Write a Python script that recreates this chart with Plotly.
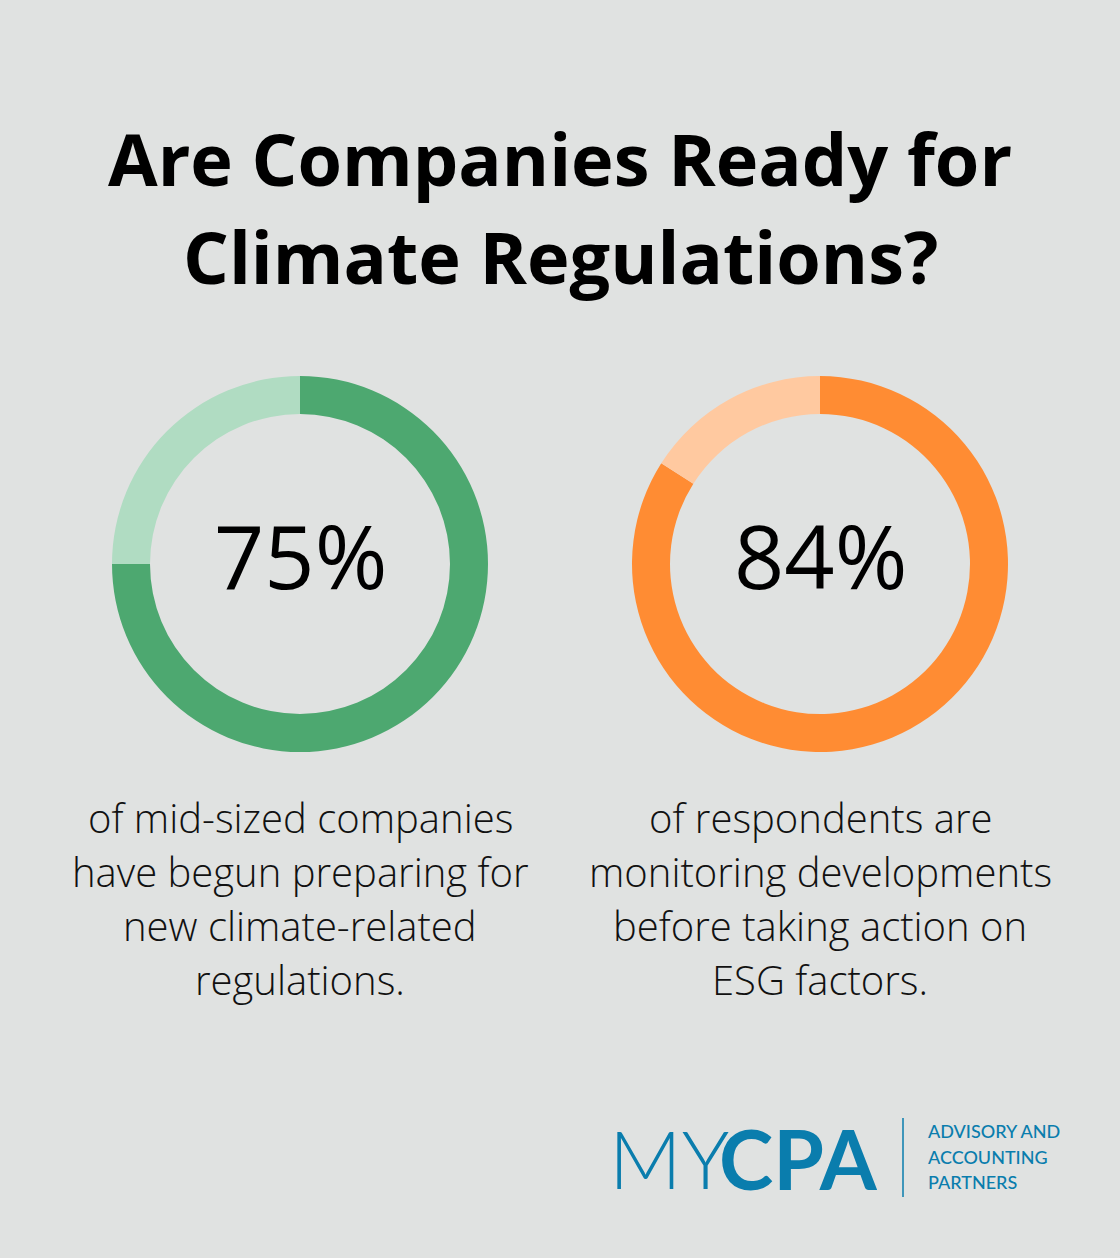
import plotly.graph_objects as go

W, H = 1120, 1258

title_lines = ["Are Companies Ready for", "Climate Regulations?"]
percentages = [75, 84]
pct_labels = ["75%", "84%"]
descriptions = [
    ["of mid-sized companies", "have begun preparing for", "new climate-related", "regulations."],
    ["of respondents are", "monitoring developments", "before taking action on", "ESG factors."],
]
main_colors = ["#4DA870", "#FF8C33"]
light_colors = ["#B0DCC2", "#FFC9A0"]
logo_tagline = ["ADVISORY AND", "ACCOUNTING", "PARTNERS"]

BG = "#E0E2E1"
BLUE = "#0A7DAD"

def px(x):
    return x / W

def py(y):
    return 1 - y / H

fig = go.Figure()

centers_x = [300, 820]
cy = 564
R = 188
for i, p in enumerate(percentages):
    cx = centers_x[i]
    fig.add_trace(go.Pie(
        values=[p, 100 - p],
        labels=["yes", "no"],
        marker=dict(colors=[main_colors[i], light_colors[i]], line=dict(width=0)),
        hole=150 / 188,
        sort=False,
        direction="clockwise",
        rotation=0,
        textinfo="none",
        hoverinfo="skip",
        showlegend=False,
        domain=dict(x=[px(cx - R), px(cx + R)], y=[py(cy + R), py(cy - R)]),
    ))
    fig.add_annotation(x=px(cx), y=py(555), xref="paper", yref="paper",
                       text=pct_labels[i], showarrow=False,
                       font=dict(family="Open Sans", size=88, color="#000000"),
                       xanchor="center", yanchor="middle")
    for j, line in enumerate(descriptions[i]):
        fig.add_annotation(x=px(cx), y=py(817 + 54 * j), xref="paper", yref="paper",
                           text=line, showarrow=False,
                           font=dict(family="Open Sans", size=40, color="#111111", weight=300),
                           xanchor="center", yanchor="middle")

for j, line in enumerate(title_lines):
    fig.add_annotation(x=0.5, y=py(158 + 98 * j), xref="paper", yref="paper",
                       text=line, showarrow=False,
                       font=dict(family="Open Sans", size=72, color="#000000", weight=700),
                       xanchor="center", yanchor="middle")

# logo
fig.add_annotation(x=px(607), y=py(1158), xref="paper", yref="paper",
                   text="MY", showarrow=False,
                   font=dict(family="Lato", size=80, color=BLUE, weight=300),
                   xanchor="left", yanchor="middle")
fig.add_annotation(x=px(880), y=py(1158), xref="paper", yref="paper",
                   text="CPA", showarrow=False,
                   font=dict(family="Lato", size=82, color=BLUE, weight=700),
                   xanchor="right", yanchor="middle")
fig.add_shape(type="line", xref="paper", yref="paper",
              x0=px(903), x1=px(903), y0=py(1118), y1=py(1197),
              line=dict(color=BLUE, width=1.5))
for j, line in enumerate(logo_tagline):
    fig.add_annotation(x=px(926), y=py(1131 + 25.5 * j), xref="paper", yref="paper",
                       text=line, showarrow=False,
                       font=dict(family="Lato", size=18, color=BLUE, weight=500),
                       xanchor="left", yanchor="middle")

fig.update_layout(
    width=W, height=H,
    margin=dict(l=0, r=0, t=0, b=0),
    paper_bgcolor=BG, plot_bgcolor=BG,
    showlegend=False,
)

fig.write_html("out.html", config={"displayModeBar": False},
               post_script="document.body.style.margin='0';")
